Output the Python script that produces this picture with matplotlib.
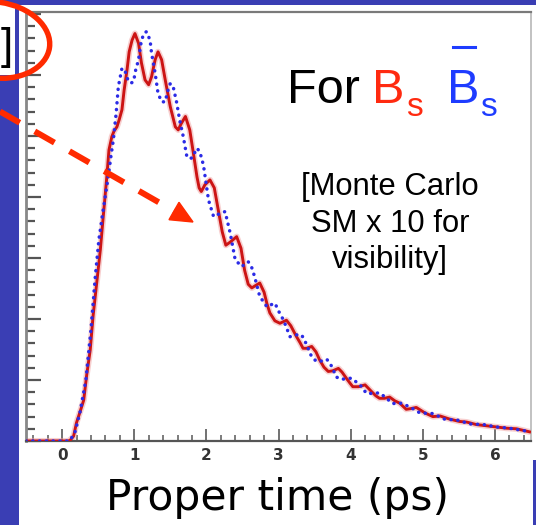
import matplotlib
matplotlib.use("Agg")
import matplotlib.pyplot as plt
from matplotlib.transforms import Affine2D
from matplotlib.patches import Rectangle, Ellipse, Polygon
from matplotlib.lines import Line2D
from matplotlib.ticker import MultipleLocator, NullFormatter

# ---- data (proper time in ps, rate in arbitrary units) ----
red_t = [-0.5, 0.08, 0.11, 0.16, 0.20, 0.25, 0.30, 0.34, 0.39, 0.43, 0.48, 0.53, 0.57, 0.62,
         0.65, 0.69, 0.72, 0.76, 0.79, 0.83, 0.86, 0.90, 0.93, 0.97, 1.01, 1.06, 1.10, 1.15,
         1.20, 1.24, 1.29, 1.33, 1.38, 1.43, 1.50, 1.57, 1.61, 1.65, 1.71, 1.77, 1.82, 1.87,
         1.90, 1.93, 1.98, 2.05, 2.11, 2.16, 2.22, 2.27, 2.33, 2.42, 2.48, 2.53, 2.58, 2.63,
         2.67, 2.74, 2.80, 2.84, 2.88, 2.95, 3.02, 3.11, 3.17, 3.25, 3.30, 3.34, 3.39, 3.46,
         3.52, 3.57, 3.63, 3.69, 3.75, 3.83, 3.88, 3.94, 3.99, 4.03, 4.11, 4.20, 4.29, 4.35,
         4.40, 4.47, 4.54, 4.61, 4.68, 4.77, 4.83, 4.91, 5.03, 5.14, 5.24, 5.37, 5.51, 5.61,
         5.74, 5.88, 6.02, 6.16, 6.30, 6.48]
red_y = [0.0, 0.0, 0.01, 0.08, 0.30, 0.48, 0.67, 1.07, 1.49, 2.05, 2.59, 3.13, 3.67, 4.33,
         4.77, 4.99, 5.08, 5.15, 5.26, 5.43, 5.75, 6.08, 6.38, 6.57, 6.68, 6.52, 6.20, 5.92,
         5.84, 5.97, 6.25, 6.38, 6.25, 5.92, 5.48, 5.15, 5.10, 5.20, 5.32, 5.10, 4.72, 4.33,
         4.15, 4.09, 4.20, 4.28, 4.15, 3.82, 3.43, 3.21, 3.26, 3.35, 3.16, 2.80, 2.57, 2.51,
         2.54, 2.59, 2.44, 2.25, 2.10, 1.97, 1.93, 1.98, 1.89, 1.71, 1.61, 1.52, 1.52, 1.55,
         1.46, 1.33, 1.21, 1.14, 1.15, 1.19, 1.13, 1.03, 0.95, 0.89, 0.89, 0.92, 0.81, 0.74,
         0.70, 0.70, 0.72, 0.66, 0.62, 0.52, 0.53, 0.55, 0.46, 0.40, 0.41, 0.36, 0.32, 0.31,
         0.27, 0.25, 0.23, 0.21, 0.20, 0.15]

blue_t = [-0.5, 0.08, 0.11, 0.18, 0.25, 0.33, 0.40, 0.46, 0.51, 0.57, 0.64, 0.68, 0.71, 0.75,
          0.78, 0.83, 0.87, 0.92, 0.96, 0.99, 1.02, 1.06, 1.10, 1.14, 1.17, 1.22, 1.24, 1.29,
          1.33, 1.38, 1.43, 1.46, 1.50, 1.54, 1.59, 1.63, 1.68, 1.73, 1.76, 1.80, 1.87, 1.91,
          1.96, 2.03, 2.10, 2.15, 2.19, 2.26, 2.33, 2.40, 2.49, 2.58, 2.63, 2.67, 2.74, 2.84,
          2.89, 2.95, 3.01, 3.07, 3.16, 3.25, 3.32, 3.37, 3.46, 3.53, 3.59, 3.67, 3.74, 3.80,
          3.87, 3.93, 4.01, 4.13, 4.22, 4.31, 4.40, 4.50, 4.57, 4.63, 4.70, 4.82, 4.96, 5.14,
          5.30, 5.49, 5.65, 5.84, 6.02, 6.20, 6.39, 6.48]
blue_y = [0.0, 0.0, 0.01, 0.15, 0.48, 1.00, 1.82, 2.69, 3.30, 3.79, 4.33, 4.69, 4.93, 5.38,
          5.81, 6.11, 6.08, 5.89, 5.87, 5.89, 6.08, 6.25, 6.57, 6.69, 6.71, 6.57, 6.36, 6.03,
          5.70, 5.56, 5.56, 5.72, 5.86, 5.81, 5.54, 5.26, 4.99, 4.66, 4.63, 4.64, 4.80, 4.74,
          4.52, 3.95, 3.68, 3.70, 3.74, 3.76, 3.41, 2.97, 2.86, 2.94, 2.84, 2.69, 2.37, 2.20,
          2.23, 2.26, 2.11, 1.98, 1.71, 1.74, 1.74, 1.63, 1.38, 1.30, 1.31, 1.34, 1.22, 1.05,
          1.01, 1.02, 1.03, 0.92, 0.78, 0.78, 0.79, 0.70, 0.62, 0.61, 0.62, 0.56, 0.46, 0.45,
          0.36, 0.34, 0.28, 0.27, 0.23, 0.21, 0.17, 0.16]

x_ticks = [0, 1, 2, 3, 4, 5, 6]
x_ticklabels = ["0", "1", "2", "3", "4", "5", "6"]

W, H = 536, 525
fig = plt.figure(figsize=(W / 100, H / 100), dpi=100)
fig.patch.set_facecolor("white")
# pixel coordinates, origin top-left
pix = Affine2D().scale(1 / 100, -1 / 100).translate(0, H / 100) + fig.dpi_scale_trans

ax = fig.add_axes([26 / W, 84 / H, 505 / W, 429 / H])
ax.set_facecolor("white")

ax.plot(red_t, red_y, color="#f0a0a0", lw=4.4, alpha=0.5, solid_capstyle="round",
        solid_joinstyle="round", zorder=2)
ax.plot(red_t, red_y, color="#cc1414", lw=2.1, solid_joinstyle="round", zorder=3)
ax.plot(blue_t, blue_y, color="#2b2be6", lw=2.5, linestyle=(0, (0.05, 1.9)),
        dash_capstyle="round", zorder=4)

ax.set_xlim(-0.5, 6.5)
ax.set_ylim(0, 429 / 61)
ax.set_xticks(x_ticks)
ax.set_xticklabels(x_ticklabels)
ax.xaxis.set_minor_locator(MultipleLocator(0.2))
ax.yaxis.set_major_locator(MultipleLocator(1))
ax.yaxis.set_minor_locator(MultipleLocator(0.2))
ax.yaxis.set_major_formatter(NullFormatter())
ax.tick_params(axis="x", which="major", direction="in", length=9, width=1.3, color="#666666",
               labelsize=11, labelcolor="#333333", pad=5)
ax.tick_params(axis="x", which="minor", direction="in", length=4, width=1.2, color="#666666")
ax.tick_params(axis="y", which="major", direction="in", length=11, width=1.6, color="#555555")
ax.tick_params(axis="y", which="minor", direction="in", length=6.5, width=1.6, color="#555555")
for lab in ax.get_xticklabels():
    lab.set_fontweight("bold")
ax.spines["left"].set_color("#888888")
ax.spines["left"].set_linewidth(2.0)
ax.spines["bottom"].set_color("#555555")
ax.spines["bottom"].set_linewidth(1.6)
ax.spines["top"].set_color("#7a7a7a")
ax.spines["top"].set_linewidth(1.6)
ax.spines["right"].set_color("#b8b8b8")
ax.spines["right"].set_linewidth(1.2)

# ---- slide background pieces ----
blue = "#3a3eb4"
for (x0, y0, w, h) in [(0, 0, W, 5), (15, 0, 4, 75), (0, 75, 19, H - 75), (533, 460, 3, 65)]:
    fig.add_artist(Rectangle((x0, y0), w, h, transform=pix, facecolor=blue,
                             edgecolor="none", zorder=0.5))

# ---- annotations ----
sans = "Liberation Sans"
fig.text(287, 103, "For", transform=pix, fontsize=35, family=sans, color="black",
         va="baseline", ha="left")
fig.text(372, 103, "B", transform=pix, fontsize=35, family=sans, color="#ff2a10",
         va="baseline", ha="left")
fig.text(406, 116, "s", transform=pix, fontsize=24, family=sans, color="#ff2a10",
         va="baseline", ha="left")
fig.text(447, 103, "B", transform=pix, fontsize=35, family=sans, color="#1e3cff",
         va="baseline", ha="left")
fig.text(480, 116, "s", transform=pix, fontsize=24, family=sans, color="#1e3cff",
         va="baseline", ha="left")
fig.add_artist(Line2D([453, 475], [47, 47], transform=pix, color="#1e3cff", lw=2.2, zorder=6))

for s, yb in [("[Monte Carlo", 195), ("SM x 10 for", 232.5), ("visibility]", 268)]:
    fig.text(390, yb, s, transform=pix, fontsize=22.3, family=sans, color="black",
             va="baseline", ha="center")

fig.text(277, 510, "Proper time (ps)", transform=pix, fontsize=30.5, family="DejaVu Sans",
         color="black", va="baseline", ha="center")

fig.text(13, 47, "]", transform=pix, fontsize=32, family=sans, color="black",
         va="center", ha="right")

orange = "#ff2a00"
fig.add_artist(Ellipse((-5, 40), 110, 76, angle=8, transform=pix, facecolor="none",
                       edgecolor=orange, lw=3.9, zorder=7))
fig.add_artist(Line2D([0, 174], [111.5, 211], transform=pix, color=orange, lw=4.3,
                      linestyle=(0, (3.8, 2.9)), solid_capstyle="butt", zorder=7))
fig.add_artist(Polygon([(193, 222), (169, 219.7), (179, 202.3)], closed=True, transform=pix,
                       facecolor=orange, edgecolor=orange, lw=1, zorder=7))

fig.savefig("out.png", dpi=100)
